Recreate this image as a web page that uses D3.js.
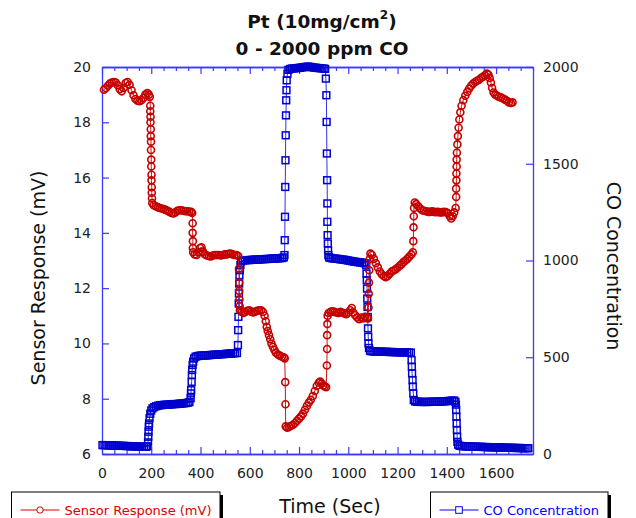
<!DOCTYPE html>
<html>
<head>
<meta charset="utf-8">
<script src="https://cdn.jsdelivr.net/npm/d3@7"></script>
<style>
  body { margin: 0; background: #fff; }
  svg { display: block; font-family: "DejaVu Sans", sans-serif; }
</style>
</head>
<body>
<div id="chart"></div>
<script>
// Tick labels for the three axes
const timeTicks = [0, 200, 400, 600, 800, 1000, 1200, 1400, 1600];
const sensorTicks = [6, 8, 10, 12, 14, 16, 18, 20];
const coTicks = [0, 500, 1000, 1500, 2000];

// Sensor response (mV) vs time (s)
const sensorResponse = [
  [8,19.18],[16,19.24],[24,19.32],[32,19.4],[40,19.44],[48,19.46],[56,19.44],[64,19.34],[72,19.2],[80,19.12],
  [88,19.24],[96,19.42],[104,19.46],[112,19.36],[120,19.16],[128,18.98],[136,18.84],[144,18.78],[152,18.76],
  [160,18.8],[168,18.88],[176,19.0],[184,19.06],[190,19.0],[194,18.92],
  [196,18.6],[196,18.4],[197,18.2],[197,18.0],[198,17.75],[198,17.5],[199,17.3],[199,17.0],[200,16.65],
  [200,16.4],[201,16.1],[201,15.9],[202,15.65],[202,15.45],[203,15.25],[204,15.08],
  [210,15.0],[218,14.96],[226,14.93],[234,14.9],[242,14.88],[250,14.86],[258,14.83],[266,14.8],[274,14.76],
  [282,14.72],[290,14.7],[298,14.74],[306,14.8],[314,14.82],[322,14.82],[330,14.8],[338,14.78],[346,14.78],
  [354,14.77],[362,14.76],[366,14.72],
  [368,14.35],[368,14.0],[369,13.7],[369,13.45],[370,13.3],
  [376,13.22],[384,13.2],[392,13.3],[398,13.45],[404,13.48],[410,13.32],[418,13.22],[426,13.18],[434,13.16],
  [442,13.15],[450,13.18],[458,13.2],[466,13.2],[474,13.2],[482,13.18],[490,13.2],[498,13.22],[506,13.22],
  [514,13.24],[522,13.25],[530,13.22],[538,13.2],[546,13.2],[553,13.16],
  [556,12.7],[557,12.2],[557,11.9],[558,11.6],[559,11.35],[560,11.2],
  [566,11.15],[574,11.1],[582,11.14],[590,11.18],[598,11.2],[606,11.15],[614,11.12],[622,11.15],[630,11.18],
  [638,11.2],[646,11.2],[654,11.14],[660,11.0],[665,10.8],[669,10.6],[673,10.45],[678,10.3],[683,10.15],
  [688,10.0],[694,9.88],[700,9.76],[706,9.66],[714,9.6],[722,9.56],[730,9.52],[738,9.5],[742,9.46],
  [744,8.6],[745,7.8],[746,7.0],
  [752,6.95],[760,6.98],[768,7.02],[776,7.06],[784,7.12],[792,7.2],[800,7.28],[808,7.36],[816,7.46],[824,7.6],
  [832,7.74],[840,7.86],[848,7.96],[856,8.1],[864,8.28],[872,8.46],[880,8.58],[886,8.62],[892,8.55],[898,8.48],
  [904,8.44],[910,8.42],
  [913,9.2],[914,9.8],[914,10.3],[915,10.7],[916,11.0],
  [920,11.1],[928,11.14],[936,11.16],[944,11.14],[952,11.12],[960,11.1],[968,11.14],[976,11.12],[984,11.08],
  [992,11.06],[1000,11.12],[1008,11.2],[1014,11.28],[1020,11.12],[1028,11.02],[1036,10.94],[1044,10.88],
  [1052,10.94],[1060,10.9],[1068,10.96],[1076,10.94],[1080,10.9],
  [1082,11.3],[1083,11.8],[1084,12.2],[1085,12.65],[1087,13.05],[1090,13.25],
  [1096,13.2],[1104,13.06],[1112,12.9],[1120,12.75],[1128,12.6],[1136,12.5],[1144,12.44],[1152,12.4],
  [1160,12.44],[1168,12.52],[1176,12.6],[1184,12.64],[1192,12.68],[1200,12.74],[1208,12.8],[1216,12.86],
  [1224,12.94],[1232,13.0],[1240,13.06],[1248,13.14],[1256,13.22],[1262,13.3],
  [1264,13.7],[1265,14.2],[1266,14.6],[1267,14.9],[1270,15.1],
  [1276,15.04],[1284,14.96],[1292,14.88],[1300,14.82],[1308,14.8],[1316,14.78],[1324,14.76],[1332,14.76],
  [1340,14.78],[1348,14.76],[1356,14.75],[1364,14.76],[1372,14.74],[1380,14.74],[1388,14.76],[1396,14.75],
  [1404,14.72],[1412,14.6],[1418,14.52],[1424,14.6],[1430,14.74],[1436,14.9],
  [1438,15.3],[1438,15.6],[1439,15.9],[1439,16.15],[1440,16.4],[1440,16.65],[1441,16.9],[1443,17.2],
  [1445,17.5],[1448,17.8],[1451,18.1],[1455,18.36],[1460,18.6],[1467,18.8],[1475,18.96],[1483,19.1],
  [1491,19.22],[1499,19.32],[1507,19.4],[1515,19.46],[1523,19.5],[1531,19.54],[1539,19.6],[1547,19.65],
  [1555,19.7],[1563,19.76],[1569,19.72],[1574,19.6],[1579,19.44],[1584,19.24],[1590,19.08],[1597,19.0],
  [1604,18.96],[1612,18.92],[1620,18.9],[1628,18.86],[1636,18.82],[1644,18.78],[1652,18.72],[1660,18.7],
  [1667,18.72]
];

// CO concentration (ppm) vs time (s)
const coConcentration = [
  [2,46],[10,46],[18,45],[26,45],[34,44],[42,45],[50,44],[58,43],[66,43],[74,42],[82,42],[90,42],[98,41],
  [106,41],[114,40],[122,40],[130,40],[138,39],[146,38],[154,38],[162,38],[170,37],[178,37],[184,40],
  [187,60],[188,89],[189,115],[190,141],[191,158],[193,185],[196,208],[200,225],[205,236],
  [212,242],[220,247],[228,250],[236,252],[244,253],[252,254],[260,255],[268,255],[276,256],[284,257],
  [292,258],[300,258],[308,259],[316,260],[324,261],[332,262],[340,263],[348,265],[355,268],
  [360,288],[361,313],[362,330],[364,373],[365,408],[366,434],[368,460],[370,477],[374,494],[380,503],
  [388,506],[396,508],[404,509],[412,509],[420,509],[428,510],[436,511],[444,512],[452,513],[460,513],
  [468,514],[476,515],[484,516],[492,516],[500,517],[508,518],[516,519],[524,519],[532,520],[540,521],[548,522],
  [552,563],[553,640],[554,709],[555,778],[556,830],[557,881],[558,924],[560,950],[562,976],[565,995],
  [572,1000],[580,1001],[588,1002],[596,1002],[604,1003],[612,1004],[620,1004],[628,1005],[636,1005],
  [644,1006],[652,1007],[660,1007],[668,1008],[676,1008],[684,1009],[692,1010],[700,1010],[708,1011],
  [716,1011],[724,1012],[732,1013],[738,1016],
  [741,1028],[742,1105],[743,1226],[744,1380],[745,1518],[746,1647],[747,1750],[748,1828],[749,1880],
  [750,1931],[753,1965],[757,1985],
  [764,1990],[772,1992],[780,1993],[788,1994],[796,1995],[804,1996],[812,1998],[820,1999],[828,2001],
  [836,2002],[844,2001],[852,1999],[860,1997],[868,1996],[876,1995],[884,1994],[892,1993],[900,1992],[906,1990],
  [909,1940],[911,1854],[912,1716],[913,1553],[914,1415],[915,1295],[915,1200],[916,1131],[917,1088],
  [918,1053],[919,1028],[922,1016],
  [928,1013],[936,1011],[944,1010],[952,1009],[960,1008],[968,1006],[976,1005],[984,1004],[992,1002],
  [1000,1000],[1008,998],[1016,996],[1024,994],[1032,993],[1040,991],[1048,990],[1056,989],[1064,987],[1070,985],
  [1073,975],[1074,932],[1075,898],[1076,855],[1077,803],[1078,760],[1079,708],[1080,649],[1081,606],
  [1082,571],[1084,548],[1088,534],
  [1094,531],[1102,530],[1110,530],[1118,529],[1126,529],[1134,529],[1142,528],[1150,528],[1158,528],
  [1166,527],[1174,527],[1182,527],[1190,526],[1198,526],[1206,526],[1214,526],[1222,525],[1230,525],
  [1238,525],[1246,524],[1254,524],
  [1257,485],[1258,451],[1259,417],[1261,382],[1262,348],[1264,313],[1266,279],[1271,272],
  [1278,270],[1286,270],[1294,269],[1302,269],[1310,269],[1318,269],[1326,269],[1334,270],[1342,270],
  [1350,270],[1358,270],[1366,271],[1374,271],[1382,272],[1390,272],[1398,273],[1406,274],[1414,275],
  [1422,276],[1430,276],[1435,270],
  [1437,255],[1438,227],[1439,193],[1440,158],[1441,124],[1442,89],[1443,63],[1446,48],
  [1452,42],[1460,41],[1468,40],[1476,40],[1484,39],[1492,39],[1500,38],[1508,38],[1516,38],[1524,37],
  [1532,37],[1540,37],[1548,36],[1556,36],[1564,36],[1572,35],[1580,35],[1588,35],[1596,34],[1604,34],
  [1612,34],[1620,33],[1628,33],[1636,33],[1644,32],[1652,32],[1660,32],[1668,32],[1676,31],[1684,31],
  [1692,31],[1700,31],[1708,30],[1716,30],[1724,30],[1731,30]
];

const red = "#c40000";
const blue = "#0000cc";
const frameBlue = "#3a3aff";

const svg = d3.select("#chart").append("svg")
  .attr("width", 636)
  .attr("height", 518);

// scales: plot box 102..533 x 67..454
const x = d3.scaleLinear().domain([0, 1750]).range([102, 533]);
const yLeft = d3.scaleLinear().domain([6, 20]).range([454, 67]);
const yRight = d3.scaleLinear().domain([0, 2000]).range([454, 67]);

// minor time ticks every 50 s
const minorTicks = d3.range(0, 1751, 50).filter(v => v % 200 !== 0);
const plain = d3.format("d");

function styleAxis(g) {
  g.selectAll(".domain").attr("stroke", frameBlue).attr("stroke-width", 1.3);
  g.selectAll(".tick line").attr("stroke", frameBlue).attr("stroke-width", 1.2);
  g.selectAll(".tick text")
    .attr("fill", "#222")
    .attr("font-family", "DejaVu Sans, sans-serif")
    .attr("font-size", 14);
}

// bottom axis with labels
svg.append("g")
  .attr("transform", "translate(0,454)")
  .call(d3.axisBottom(x).tickValues(timeTicks).tickFormat(plain).tickSizeInner(-7).tickSizeOuter(0).tickPadding(14))
  .call(styleAxis);
svg.append("g")
  .attr("transform", "translate(0,454)")
  .call(d3.axisBottom(x).tickValues(minorTicks).tickSizeInner(-4).tickSizeOuter(0).tickFormat(""))
  .call(styleAxis);

// top axis, ticks only
svg.append("g")
  .attr("transform", "translate(0,67)")
  .call(d3.axisTop(x).tickValues(timeTicks).tickSizeInner(-7).tickSizeOuter(0).tickFormat(""))
  .call(styleAxis);
svg.append("g")
  .attr("transform", "translate(0,67)")
  .call(d3.axisTop(x).tickValues(minorTicks).tickSizeInner(-4).tickSizeOuter(0).tickFormat(""))
  .call(styleAxis);

// left and right axes
svg.append("g")
  .attr("transform", "translate(102,0)")
  .call(d3.axisLeft(yLeft).tickValues(sensorTicks).tickFormat(plain).tickSizeInner(-7).tickSizeOuter(0).tickPadding(11))
  .call(styleAxis);
svg.append("g")
  .attr("transform", "translate(533,0)")
  .call(d3.axisRight(yRight).tickValues(coTicks).tickFormat(plain).tickSizeInner(-7).tickSizeOuter(0).tickPadding(10))
  .call(styleAxis);

// CO concentration: line + open squares
const coLine = d3.line().x(d => x(d[0])).y(d => yRight(d[1]));
svg.append("path")
  .datum(coConcentration)
  .attr("fill", "none")
  .attr("stroke", "#3030f0")
  .attr("stroke-width", 1)
  .attr("d", coLine);
svg.append("g").selectAll("rect")
  .data(coConcentration)
  .join("rect")
  .attr("x", d => x(d[0]) - 3.4)
  .attr("y", d => yRight(d[1]) - 3.4)
  .attr("width", 6.8)
  .attr("height", 6.8)
  .attr("fill", "none")
  .attr("stroke", blue)
  .attr("stroke-width", 1.5);

// sensor response: line + open circles
const sensorLine = d3.line().x(d => x(d[0])).y(d => yLeft(d[1]));
svg.append("path")
  .datum(sensorResponse)
  .attr("fill", "none")
  .attr("stroke", "#d01010")
  .attr("stroke-width", 1)
  .attr("d", sensorLine);
svg.append("g").selectAll("circle")
  .data(sensorResponse)
  .join("circle")
  .attr("cx", d => x(d[0]))
  .attr("cy", d => yLeft(d[1]))
  .attr("r", 3.5)
  .attr("fill", "none")
  .attr("stroke", red)
  .attr("stroke-width", 1.6);

// title
const title = svg.append("text")
  .attr("text-anchor", "middle")
  .attr("font-size", 18.5)
  .attr("font-weight", "bold")
  .attr("fill", "#111");
title.append("tspan").attr("x", 322).attr("y", 28).text("Pt (10mg/cm");
title.append("tspan").attr("font-size", 12).attr("dy", -9).text("2");
title.append("tspan").attr("dy", 9).text(")");
svg.append("text")
  .attr("x", 322).attr("y", 55)
  .attr("text-anchor", "middle")
  .attr("font-size", 18.5)
  .attr("font-weight", "bold")
  .attr("fill", "#111")
  .text("0 - 2000 ppm CO");

// axis titles
svg.append("text")
  .attr("transform", "translate(45,278) rotate(-90)")
  .attr("text-anchor", "middle")
  .attr("font-size", 19)
  .attr("fill", "#111")
  .text("Sensor Response (mV)");
svg.append("text")
  .attr("transform", "translate(607,266) rotate(90)")
  .attr("text-anchor", "middle")
  .attr("font-size", 19)
  .attr("fill", "#111")
  .text("CO Concentration");
svg.append("text")
  .attr("x", 330).attr("y", 513)
  .attr("text-anchor", "middle")
  .attr("font-size", 19)
  .attr("fill", "#111")
  .text("Time (Sec)");

// legend boxes with drop shadow
function legendBox(x0, w, color, label, marker) {
  const g = svg.append("g");
  g.append("rect").attr("x", x0 + 3).attr("y", 495).attr("width", w).attr("height", 40).attr("fill", "#000");
  g.append("rect").attr("x", x0).attr("y", 492).attr("width", w).attr("height", 40)
    .attr("fill", "#fff").attr("stroke", "#000").attr("stroke-width", 1);
  g.append("line").attr("x1", x0 + 9).attr("x2", x0 + 48).attr("y1", 510).attr("y2", 510)
    .attr("stroke", color).attr("stroke-width", 1);
  const cx = x0 + 28.5;
  if (marker === "circle") {
    g.append("circle").attr("cx", cx).attr("cy", 510).attr("r", 3.2)
      .attr("fill", "#fff").attr("stroke", color);
  } else {
    g.append("rect").attr("x", cx - 3.3).attr("y", 506.7).attr("width", 6.6).attr("height", 6.6)
      .attr("fill", "#fff").attr("stroke", color);
  }
  g.append("text").attr("x", x0 + 53).attr("y", 515)
    .attr("font-size", 13).attr("fill", color).text(label);
}
legendBox(11.5, 208.5, "#dd0000", "Sensor Response (mV)", "circle");
legendBox(430.5, 177.5, "#0000ff", "CO Concentration", "square");
</script>
</body>
</html>
